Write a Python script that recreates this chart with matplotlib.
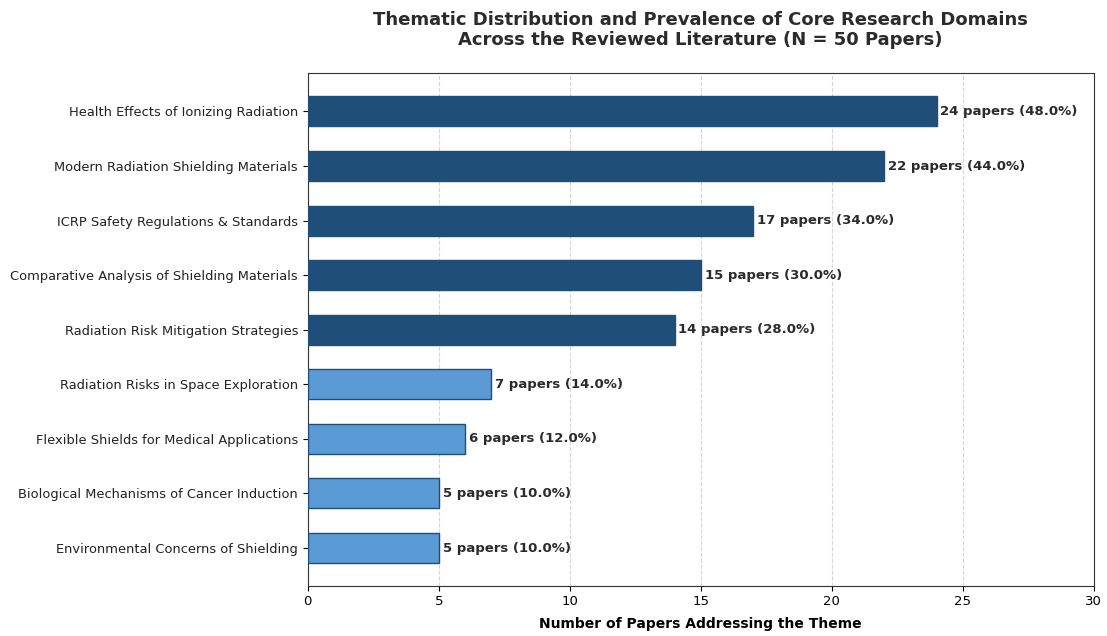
import matplotlib.pyplot as plt

# Themes and paper counts (N = 50)
themes = [
    "Health Effects of Ionizing Radiation",
    "Modern Radiation Shielding Materials",
    "ICRP Safety Regulations & Standards",
    "Comparative Analysis of Shielding Materials",
    "Radiation Risk Mitigation Strategies",
    "Radiation Risks in Space Exploration",
    "Flexible Shields for Medical Applications",
    "Biological Mechanisms of Cancer Induction",
    "Environmental Concerns of Shielding",
]
counts = [24, 22, 17, 15, 14, 7, 6, 5, 5]
total_papers = 50

dark_blue = "#1f4e79"
light_blue = "#5b9bd5"
colors = [dark_blue if c >= 10 else light_blue for c in counts]

fig, ax = plt.subplots(figsize=(11.07, 6.36), dpi=100)
fig.subplots_adjust(left=0.278, right=0.988, top=0.885, bottom=0.078)

y = list(range(len(themes)))[::-1]
ax.barh(y, counts, height=0.55, color=colors, edgecolor=dark_blue, linewidth=1, zorder=3)

for yi, c in zip(y, counts):
    ax.text(c + 0.15, yi, f"{c} papers ({c / total_papers * 100:.1f}%)",
            va="center", ha="left", fontsize=9.5, fontweight="bold", color="#2b2b2b")

ax.set_yticks(y)
ax.set_yticklabels(themes, fontsize=9.4, color="#222222")
ax.set_xlim(0, 30)
ax.tick_params(axis="x", labelsize=9.5, pad=3)
ax.xaxis.grid(True, linestyle="--", color="#cccccc", alpha=0.8, zorder=0)
ax.set_axisbelow(True)
for s in ax.spines.values():
    s.set_color("#333333")

ax.set_xlabel("Number of Papers Addressing the Theme", fontsize=10, fontweight="bold", labelpad=6)
ax.set_title("Thematic Distribution and Prevalence of Core Research Domains\n"
             "Across the Reviewed Literature (N = 50 Papers)",
             fontsize=13, fontweight="bold", color="#2b2b2b", pad=20)

plt.savefig("out.png", dpi=100)
